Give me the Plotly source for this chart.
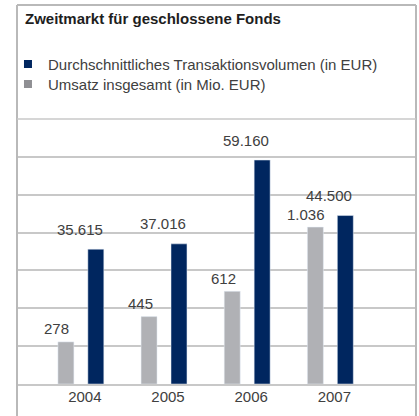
import plotly.graph_objects as go

years = ["2004", "2005", "2006", "2007"]
umsatz = [278, 445, 612, 1036]                 # Mio. EUR
volumen = [35615, 37016, 59160, 44500]         # EUR
umsatz_labels = ["278", "445", "612", "1.036"]
volumen_labels = ["35.615", "37.016", "59.160", "44.500"]

NAVY = "#00265f"
GREY_BAR = "#b0b1b5"
GREY_LEG = "#8f8f93"
GRID = "#c8c8c8"
FRAME = "#b9b9b9"
TXT = "#404040"
FONT = "Liberation Sans, Arial, sans-serif"

fig = go.Figure()

fig.add_trace(go.Bar(
    x=years, y=umsatz, yaxis="y", marker_color=GREY_BAR,
    width=0.192, offset=-0.276, showlegend=False, hoverinfo="skip",
))
fig.add_trace(go.Bar(
    x=years, y=volumen, yaxis="y2", marker_color=NAVY,
    width=0.192, offset=0.084, showlegend=False, hoverinfo="skip",
))

fig.add_trace(go.Scatter(
    x=[None], y=[None], mode="markers", legend="legend",
    marker=dict(symbol="square", size=8, color=NAVY),
    name="Durchschnittliches Transaktionsvolumen (in EUR)",
))
fig.add_trace(go.Scatter(
    x=[None], y=[None], mode="markers", legend="legend2",
    marker=dict(symbol="square", size=8, color=GREY_LEG),
    name="Umsatz insgesamt (in Mio. EUR)",
))

# value labels: x is the category index on the category axis
annotations = []
for i, (v, t) in enumerate(zip(umsatz, umsatz_labels)):
    annotations.append(dict(x=i, y=v, xref="x", yref="y", text=t, showarrow=False,
                            xshift=-24, yshift=13, yanchor="middle",
                            font=dict(size=15, color=TXT, family=FONT)))
for i, (v, t) in enumerate(zip(volumen, volumen_labels)):
    annotations.append(dict(x=i, y=v, xref="x", yref="y2", text=t, showarrow=False,
                            xshift=-1, yshift=20, yanchor="middle",
                            font=dict(size=15, color=TXT, family=FONT)))

top = 1.430
shapes = [
    dict(type="line", xref="paper", yref="paper", x0=0, x1=0, y0=-0.2, y1=top,
         line=dict(color=FRAME, width=2)),
    dict(type="line", xref="paper", yref="paper", x0=1, x1=1, y0=-0.2, y1=top,
         line=dict(color=FRAME, width=2)),
    dict(type="line", xref="paper", yref="paper", x0=0, x1=1, y0=top, y1=top,
         line=dict(color=FRAME, width=2)),
    dict(type="line", xref="paper", yref="paper", x0=0, x1=1, y0=1, y1=1,
         line=dict(color=GRID, width=1.5)),
]

fig.update_layout(
    width=419, height=416,
    margin=dict(l=17, r=3, t=119, b=32),
    paper_bgcolor="white", plot_bgcolor="white",
    barmode="overlay",
    font=dict(family=FONT, size=15, color=TXT),
    title=dict(text="<b>Zweitmarkt für geschlossene Fonds</b>",
               x=25 / 419, xanchor="left", y=1 - 18.5 / 416, yanchor="middle",
               font=dict(size=15, color="#1e1e1e", family=FONT)),
    xaxis=dict(type="category", categoryorder="array", categoryarray=years,
               range=[-0.768, 4.030], showgrid=False, zeroline=False,
               showline=True, linecolor=GRID, linewidth=1.5, ticks="",
               ticklabelshift=4, ticklabelstandoff=-2,
               tickfont=dict(size=15, color=TXT)),
    yaxis=dict(range=[0, 1750], dtick=250, showgrid=True, gridcolor=GRID,
               gridwidth=1.5, showticklabels=False, zeroline=False),
    yaxis2=dict(range=[0, 70000], overlaying="y", side="right", showgrid=False,
                showticklabels=False, zeroline=False),
    legend=dict(x=-0.0226, xanchor="left", y=1.207, yanchor="middle",
                bgcolor="rgba(0,0,0,0)", font=dict(size=15, color=TXT)),
    legend2=dict(x=-0.0226, xanchor="left", y=1.131, yanchor="middle",
                 bgcolor="rgba(0,0,0,0)", font=dict(size=15, color=TXT)),
    annotations=annotations,
    shapes=shapes,
)

fig.write_html("out.html", config={"displayModeBar": False},
               post_script="document.body.style.margin = '0';")
